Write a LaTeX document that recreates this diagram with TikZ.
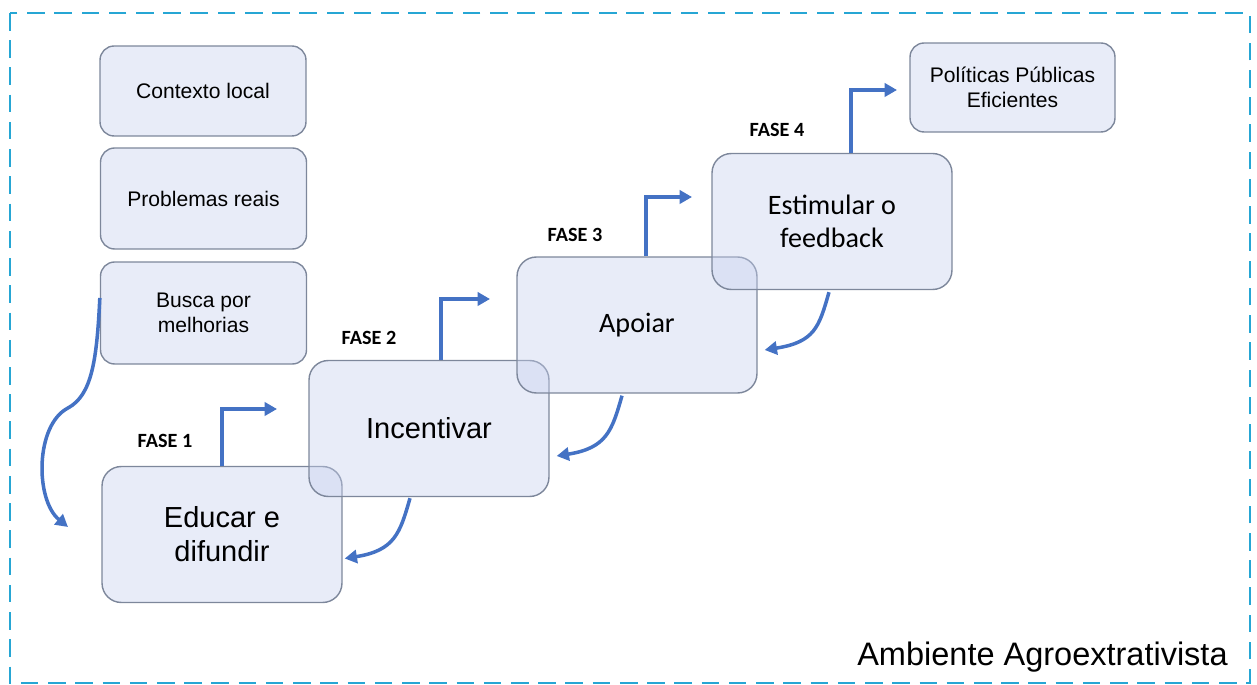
\documentclass[tikz,border=0pt]{standalone}
\usepackage{fontspec}
\setmainfont{Liberation Sans}
\newfontfamily\carlito{Carlito}
\usetikzlibrary{arrows.meta, calc}
\definecolor{azulseta}{RGB}{68,114,196}
\definecolor{preenche}{RGB}{198,208,238}
\definecolor{contorno}{RGB}{125,135,155}
\definecolor{tracejado}{RGB}{38,166,212}
\tikzset{caixa/.style = {draw=contorno, line width=0.8pt, fill=preenche, fill opacity=0.4, text opacity=1, align=center, inner sep=0pt}}
\tikzset{pequena/.style = {caixa, rounded corners=8pt, minimum width=4.12cm, font=\fontsize{12}{14}\selectfont}}
\tikzset{grande/.style = {caixa, rounded corners=11pt, minimum width=4.8cm, minimum height=2.72cm}}
\tikzset{seta/.style = {draw=azulseta, line width=2pt, -{Triangle[length=7pt,width=7.5pt]}}}
\tikzset{fase/.style = {font=\carlito\bfseries\fontsize{11.5}{13}\selectfont, inner sep=0pt}}

\begin{document}
\begin{tikzpicture}[x=0.02cm, y=-0.02cm]
	\useasboundingbox (0,0) rectangle (1257,685);
	\draw[tracejado, line width=1.1pt, dash pattern=on 10pt off 5.5pt] (10,13) rectangle (1250,683);
	
	\node[pequena, minimum height=1.8cm] (contexto) at (203,91) {Contexto local};
	\node[pequena, minimum height=2.02cm] (problemas) at (203.5,198.5) {Problemas reais};
	\node[pequena, minimum height=2.04cm] (busca) at (203.5,313) {Busca por\\melhorias};
	\node[pequena, minimum width=4.1cm, minimum height=1.78cm] (politicas) at (1012.5,87.5) {Políticas Públicas\\Eficientes};
	
	\node[grande, font=\fontsize{16.5}{19.3}\selectfont] (educar) at (222,534.5) {Educar e\\difundir};
	\node[grande, font=\fontsize{16.5}{19.3}\selectfont] (incentivar) at (429,428.5) {Incentivar};
	\node[grande, font=\carlito\fontsize{16}{18.7}\selectfont] (apoiar) at (637,325) {Apoiar};
	\node[grande, font=\carlito\fontsize{16}{18.7}\selectfont] (estimular) at (832,221.5) {Estimular o\\feedback};
	
	\node[fase] (fase1) at (165,441) {FASE 1};
	\node[fase] (fase2) at (369,338) {FASE 2};
	\node[fase] (fase3) at (575,235) {FASE 3};
	\node[fase] (fase4) at (777,130) {FASE 4};
	
	\coordinate (t1) at (277,409);
	\coordinate (t2) at (490,299);
	\coordinate (t3) at (692,197);
	\coordinate (t4) at (897,90);
	\draw[seta] (educar.north) |- (t1);
	\draw[seta] ($(incentivar.north)+(12,0)$) |- (t2);
	\draw[seta] ($(apoiar.north)+(9,0)$) |- (t3);
	\draw[seta] ($(estimular.north)+(19,0)$) |- (t4);
	
	\draw[seta] ($(incentivar.south)+(-19,1)$) .. controls +(-10,35) and +(50,-8) .. ($(educar.east)+(2,24)$);
	\draw[seta] ($(apoiar.south)+(-15,2)$) .. controls +(-10,35) and +(50,-8) .. ($(incentivar.east)+(7,27.5)$);
	\draw[seta] ($(estimular.south)+(-3,2)$) .. controls +(-10,35) and +(50,-8) .. ($(apoiar.east)+(7,25)$);
	
	\coordinate (dobra) at (68,408);
	\coordinate (fim) at (68,527);
	\draw[seta] ($(busca.west)+(0,-15)$) .. controls +(-3,62) and +(24,-13) .. (dobra) .. controls +(-33,17) and +(-33,-27) .. (fim);
	
	\node[anchor=east, inner sep=0pt, font=\fontsize{18.5}{22}\selectfont] (ambiente) at (1228,657) {Ambiente Agroextrativista};
\end{tikzpicture}
\end{document}
